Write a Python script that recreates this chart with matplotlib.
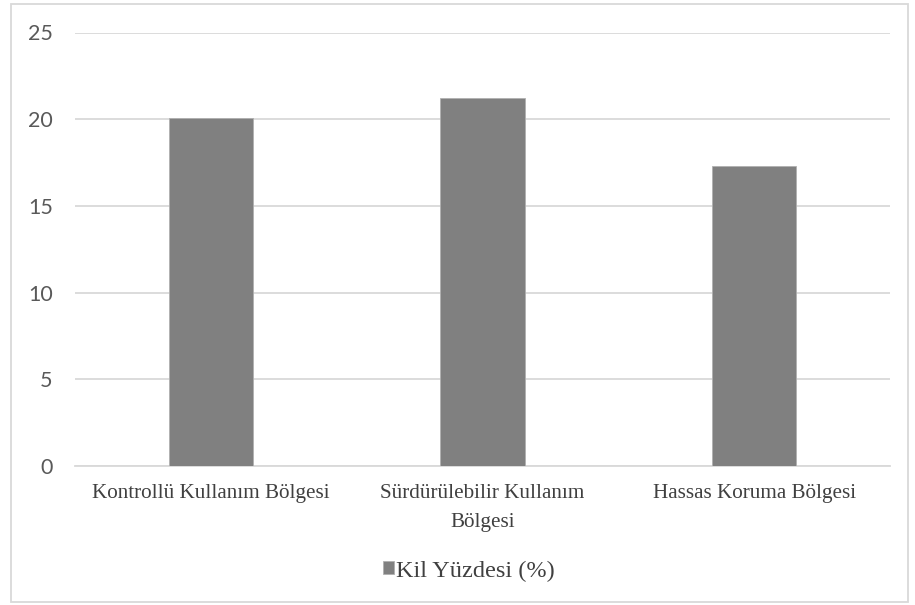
import matplotlib
matplotlib.use("Agg")
import matplotlib.pyplot as plt
from matplotlib.patches import Rectangle
from matplotlib.font_manager import FontProperties, findfont

categories = ["Kontrollü Kullanım Bölgesi", "Sürdürülebilir Kullanım\nBölgesi", "Hassas Koruma Bölgesi"]
clay_percent = [20.05, 21.25, 17.28]
series_name = "Kil Yüzdesi (%)"
y_ticks = [0, 5, 10, 15, 20, 25]

serif_path = findfont(FontProperties(family="Liberation Serif"))
serif_fp = FontProperties(fname=serif_path, size=15.2)
legend_fp = FontProperties(fname=serif_path, size=17.5)

W, H = 915, 605
fig = plt.figure(figsize=(W / 100, H / 100), dpi=100)
fig.patch.set_facecolor("white")

ax = fig.add_axes([75 / W, 1 - 466 / H, 815 / W, (466 - 32.5) / H])
x = range(len(categories))
ax.bar(x, clay_percent, width=0.31, color="#808080", edgecolor="#b0b0b0", linewidth=0.6,
       zorder=3, label=series_name)

ax.set_xlim(-0.5, len(categories) - 0.5)
ax.set_ylim(0, 25)
ax.set_yticks(y_ticks)
ax.set_yticklabels([str(t) for t in y_ticks], family="Lato", fontsize=15.5, color="#595959")
ax.set_xticks(list(x))
ax.set_xticklabels(categories, fontproperties=serif_fp, color="#404040", linespacing=1.7)
ax.tick_params(axis="both", length=0)
ax.tick_params(axis="y", pad=16)
ax.tick_params(axis="x", pad=13)

ax.grid(axis="y", color="#d9d9d9", linewidth=1.3, zorder=0)
for side in ("top", "right", "left"):
    ax.spines[side].set_visible(False)
ax.spines["bottom"].set_color("#d9d9d9")
ax.spines["bottom"].set_linewidth(1.3)

leg = fig.legend(loc="center", bbox_to_anchor=(469 / W, 1 - 571 / H), frameon=False,
                 prop=legend_fp, handlelength=0.45, handleheight=0.45, handletextpad=0.1)
for t in leg.get_texts():
    t.set_color("#404040")

# outer chart frame
fig.patches.append(Rectangle((11 / W, 1 - 602 / H), (908 - 11) / W, (602 - 4) / H,
                             transform=fig.transFigure, fill=False,
                             edgecolor="#d9d9d9", linewidth=1.3))

fig.savefig("out.png", dpi=100, facecolor="white")
